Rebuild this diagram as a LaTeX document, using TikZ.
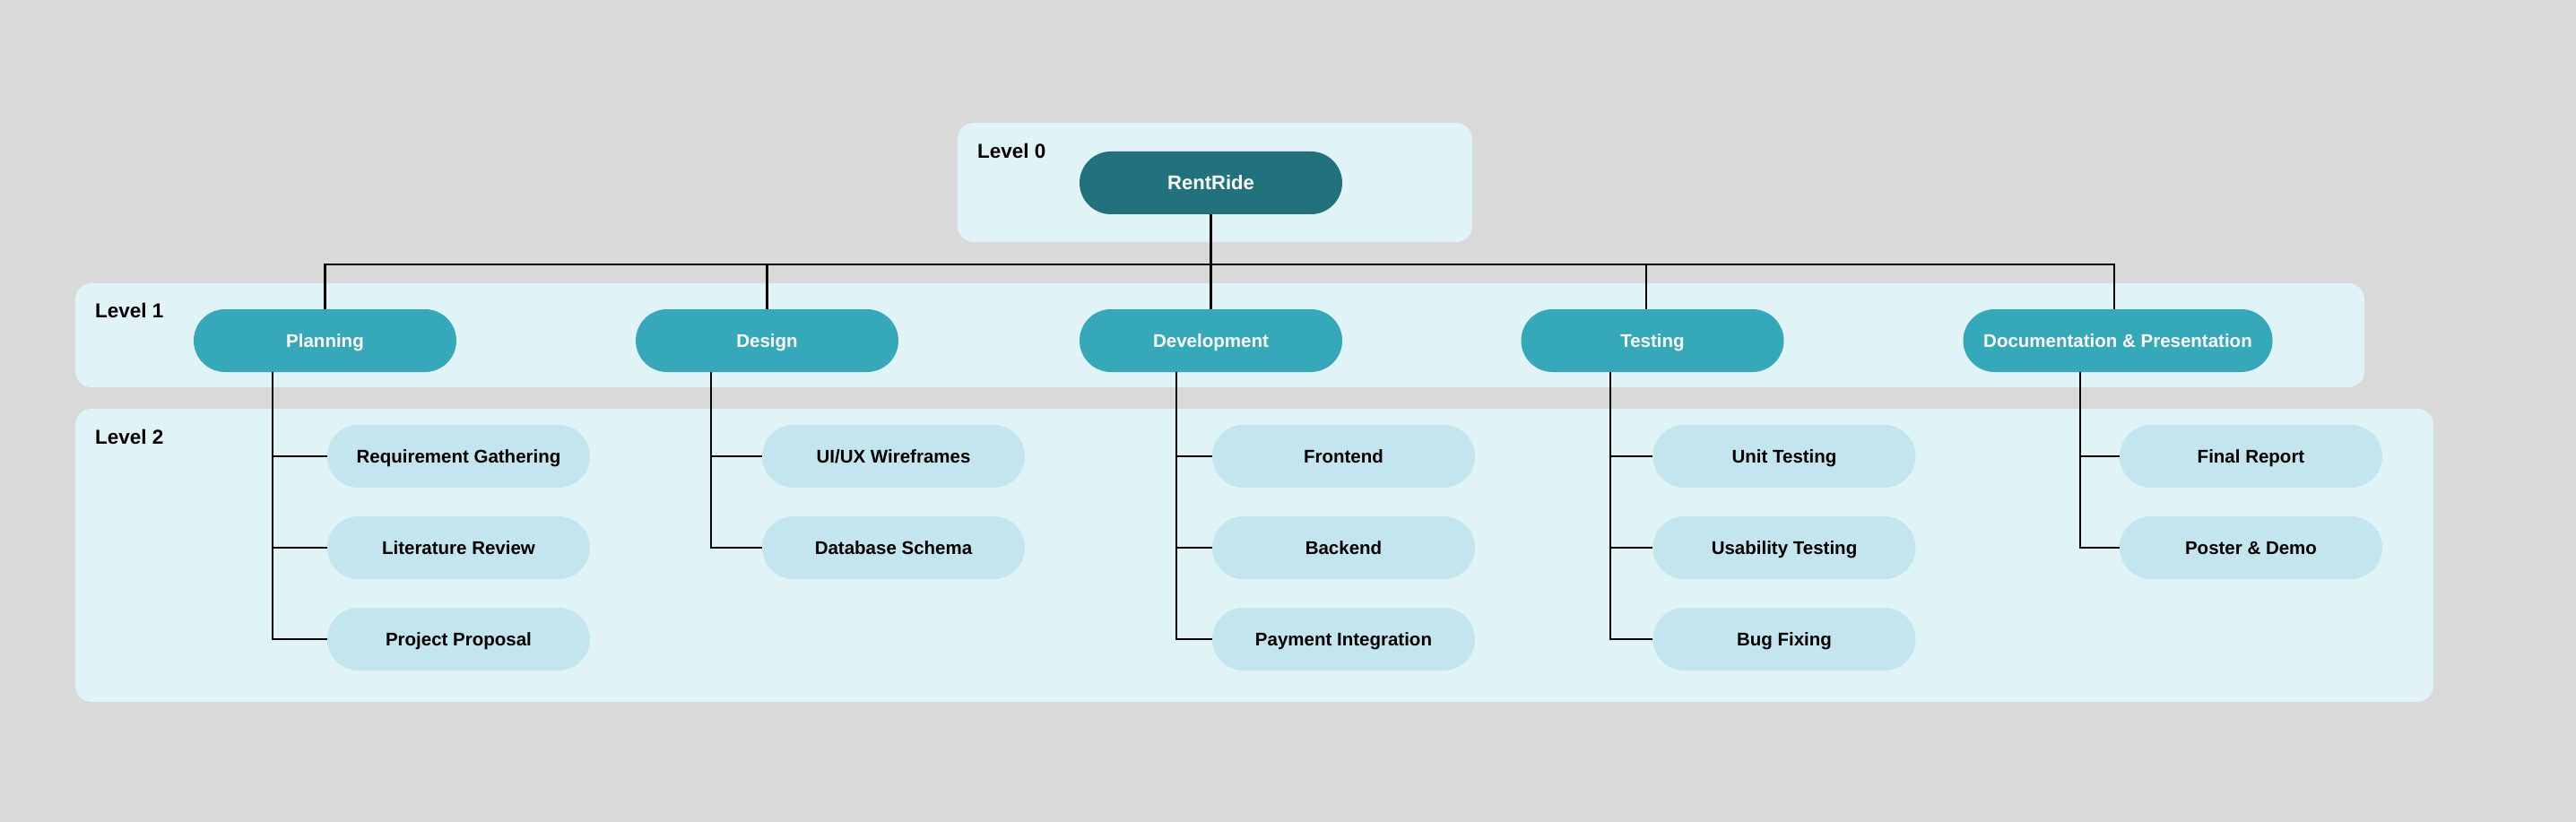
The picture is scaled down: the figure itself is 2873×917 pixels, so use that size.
\documentclass[tikz,border=0pt]{standalone}
\usepackage{fontspec}
\setmainfont{Liberation Sans}
\definecolor{bgc}{HTML}{D9D9D9}
\definecolor{panelc}{HTML}{E0F3F7}
\definecolor{rootc}{HTML}{22727E}
\definecolor{lonec}{HTML}{35A9BA}
\definecolor{ltwoc}{HTML}{C3E6EE}
\tikzset{
  panel/.style={fill=panelc, draw=none, rounded corners=18pt},
  basebox/.style={rectangle, rounded corners=35pt, minimum width=293pt, minimum height=70pt,
     inner sep=0pt, text height=14.7pt, text depth=0pt, align=center,
     font=\fontsize{20.5}{24}\selectfont\bfseries},
  rootbox/.style={basebox, fill=rootc, text=white, font=\fontsize{22}{26}\selectfont\bfseries, text height=15.8pt},
  lonebox/.style={basebox, fill=lonec, text=white},
  ltwobox/.style={basebox, fill=ltwoc, text=black},
  lvl/.style={anchor=west, inner sep=0pt, text height=16pt, text depth=0pt,
     font=\fontsize{22.5}{26}\selectfont\bfseries},
  conn/.style={draw=black, line width=2.3pt}
}
\begin{document}
\begin{tikzpicture}[x=1pt,y=-1pt]
\useasboundingbox (0,0) rectangle (2873,917);
\fill[bgc] (0,0) rectangle (2873,917);
% panels
\fill[panel] (1068,137) rectangle (1642,270);
\fill[panel] (84,316) rectangle (2637,432);
\fill[panel] (84,456) rectangle (2714,783);
\node[lvl] (lab0) at (1090,169) {Level 0};
\node[lvl] (lab1) at (106,347) {Level 1};
\node[lvl] (lab2) at (106,487) {Level 2};
\coordinate (busL) at (362.5,295);
\coordinate (busR) at (2358,295);
\coordinate (rootpt) at (1350.5,204);
\coordinate (tpx) at (304,0);
\coordinate (tdx) at (793,0);
\coordinate (tvx) at (1312,0);
\coordinate (ttx) at (1796,0);
\coordinate (tcx) at (2320,0);
% nodes
\node[rootbox] (root) at (rootpt) {RentRide};
\node[lonebox] (plan) at (362.5,380) {Planning};
\node[lonebox] (desg) at (855.5,380) {Design};
\node[lonebox] (devl) at (1350.5,380) {Development};
\node[lonebox] (test) at (1843,380) {Testing};
\node[lonebox, minimum width=345pt] (docu) at (2362,380) {Documentation \& Presentation};
\node[ltwobox] (p1) at (511.5,509) {Requirement Gathering};
\node[ltwobox] (p2) at (511.5,611) {Literature Review};
\node[ltwobox] (p3) at (511.5,713) {Project Proposal};
\node[ltwobox] (d1) at (996.5,509) {UI/UX Wireframes};
\node[ltwobox] (d2) at (996.5,611) {Database Schema};
\node[ltwobox] (v1) at (1498.5,509) {Frontend};
\node[ltwobox] (v2) at (1498.5,611) {Backend};
\node[ltwobox] (v3) at (1498.5,713) {Payment Integration};
\node[ltwobox] (t1) at (1990,509) {Unit Testing};
\node[ltwobox] (t2) at (1990,611) {Usability Testing};
\node[ltwobox] (t3) at (1990,713) {Bug Fixing};
\node[ltwobox] (c1) at (2510.5,509) {Final Report};
\node[ltwobox] (c2) at (2510.5,611) {Poster \& Demo};
% bus with end drops as one path
\draw[conn] (plan.north) -- (busL) -- (busR) -- ([xshift=-4pt]docu.north);
\draw[conn] (root.south) -- (root.south |- busL);
\draw[conn] (desg.north) -- (desg.north |- busL);
\draw[conn] (devl.north) -- (devl.north |- busL);
\draw[conn] ([xshift=-7pt]test.north) -- ([xshift=-7pt]test.north |- busL);
% planning trunk
\draw[conn] (plan.south -| tpx) |- (p3.west);
\draw[conn] (p1.west -| tpx) -- (p1.west);
\draw[conn] (p2.west -| tpx) -- (p2.west);
% design trunk
\draw[conn] (desg.south -| tdx) |- (d2.west);
\draw[conn] (d1.west -| tdx) -- (d1.west);
% development trunk
\draw[conn] (devl.south -| tvx) |- (v3.west);
\draw[conn] (v1.west -| tvx) -- (v1.west);
\draw[conn] (v2.west -| tvx) -- (v2.west);
% testing trunk
\draw[conn] (test.south -| ttx) |- (t3.west);
\draw[conn] (t1.west -| ttx) -- (t1.west);
\draw[conn] (t2.west -| ttx) -- (t2.west);
% documentation trunk
\draw[conn] (docu.south -| tcx) |- (c2.west);
\draw[conn] (c1.west -| tcx) -- (c1.west);
\end{tikzpicture}
\end{document}
